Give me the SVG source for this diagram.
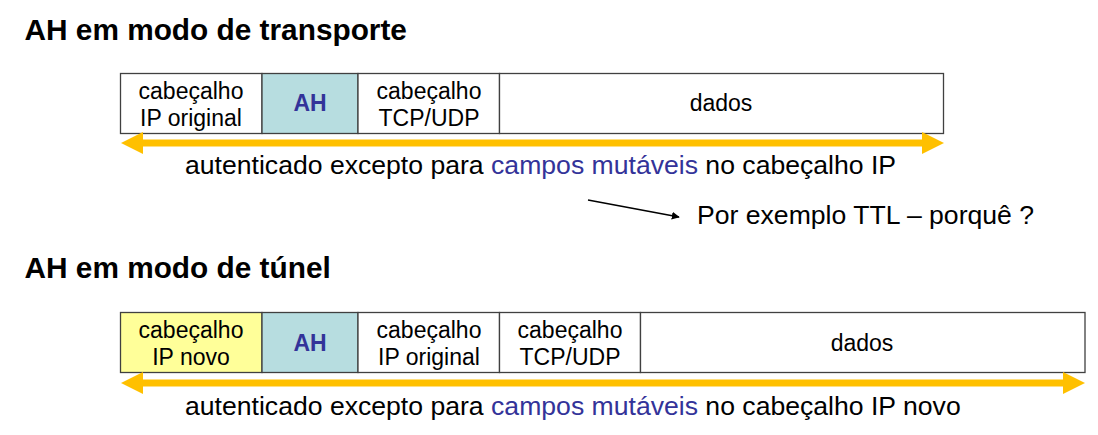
<svg xmlns="http://www.w3.org/2000/svg" width="1098" height="435" viewBox="0 0 1098 435">
<defs>
<style>
text{font-family:"Liberation Sans",Arial,sans-serif;fill:#000}
.title{font-size:29.8px;font-weight:bold}
.cell{font-size:23px;text-anchor:middle}
.ah{font-size:23px;font-weight:bold;fill:#333399;text-anchor:middle}
.note{font-size:26.6px}
.blue{fill:#333399}
.box{stroke:#404040;stroke-width:1.3;fill:#fff}
.yel{fill:#FFFF99}
.teal{fill:#B7DDE0}
.bar{stroke:#FFC000;stroke-width:7;fill:none}
.head{fill:#FFC000}
</style>
<marker id="blk" viewBox="0 0 10 10" refX="9" refY="5" markerWidth="8" markerHeight="8" markerUnits="userSpaceOnUse" orient="auto"><path d="M0,0L10,5L0,10z" fill="#000"/></marker>
</defs>
<rect width="1098" height="435" fill="#fff"/>
<text class="title" x="24.5" y="40">AH em modo de transporte</text>
<text class="title" x="24.5" y="278">AH em modo de túnel</text>

<g id="t-iporig">
<rect class="box" x="120.5" y="73.5" width="141.5" height="60"/>
<text class="cell" x="191" y="99">cabeçalho</text>
<text class="cell" x="191" y="126">IP original</text>
</g>
<g id="t-ah">
<rect class="box teal" x="262" y="73.5" width="96" height="60"/>
<text class="ah" x="310" y="111">AH</text>
</g>
<g id="t-tcp">
<rect class="box" x="358" y="73.5" width="141.5" height="60"/>
<text class="cell" x="429" y="99">cabeçalho</text>
<text class="cell" x="429" y="126">TCP/UDP</text>
</g>
<g id="t-dados">
<rect class="box" x="499.5" y="73.5" width="444" height="60"/>
<text class="cell" x="721" y="111">dados</text>
</g>

<g id="n-ipnovo">
<rect class="box yel" x="120.5" y="312.5" width="141.5" height="60"/>
<text class="cell" x="191" y="338">cabeçalho</text>
<text class="cell" x="191" y="365">IP novo</text>
</g>
<g id="n-ah">
<rect class="box teal" x="262" y="312.5" width="96" height="60"/>
<text class="ah" x="310" y="351">AH</text>
</g>
<g id="n-iporig">
<rect class="box" x="358" y="312.5" width="141.5" height="60"/>
<text class="cell" x="429" y="338">cabeçalho</text>
<text class="cell" x="429" y="365">IP original</text>
</g>
<g id="n-tcp">
<rect class="box" x="499.5" y="312.5" width="141" height="60"/>
<text class="cell" x="570" y="338">cabeçalho</text>
<text class="cell" x="570" y="365">TCP/UDP</text>
</g>
<g id="n-dados">
<rect class="box" x="640.5" y="312.5" width="444.5" height="60"/>
<text class="cell" x="862" y="351">dados</text>
</g>

<g id="connectors">
<line class="bar" x1="140" y1="143" x2="924" y2="143"/>
<path class="head" d="M121,143L143,132L143,154z"/>
<path class="head" d="M944,143L922,132L922,154z"/>
<line class="bar" x1="140" y1="383" x2="1065" y2="383"/>
<path class="head" d="M121,383L143,372L143,394z"/>
<path class="head" d="M1085,383L1063,372L1063,394z"/>
<line x1="588" y1="200" x2="679" y2="217" stroke="#000" stroke-width="1.5" marker-end="url(#blk)"/>
</g>

<text class="note" x="185" y="174">autenticado excepto para <tspan class="blue">campos mutáveis</tspan> no cabeçalho IP</text>
<text class="note" x="697" y="224">Por exemplo TTL – porquê ?</text>
<text class="note" x="185" y="415">autenticado excepto para <tspan class="blue">campos mutáveis</tspan> no cabeçalho IP novo</text>
</svg>
